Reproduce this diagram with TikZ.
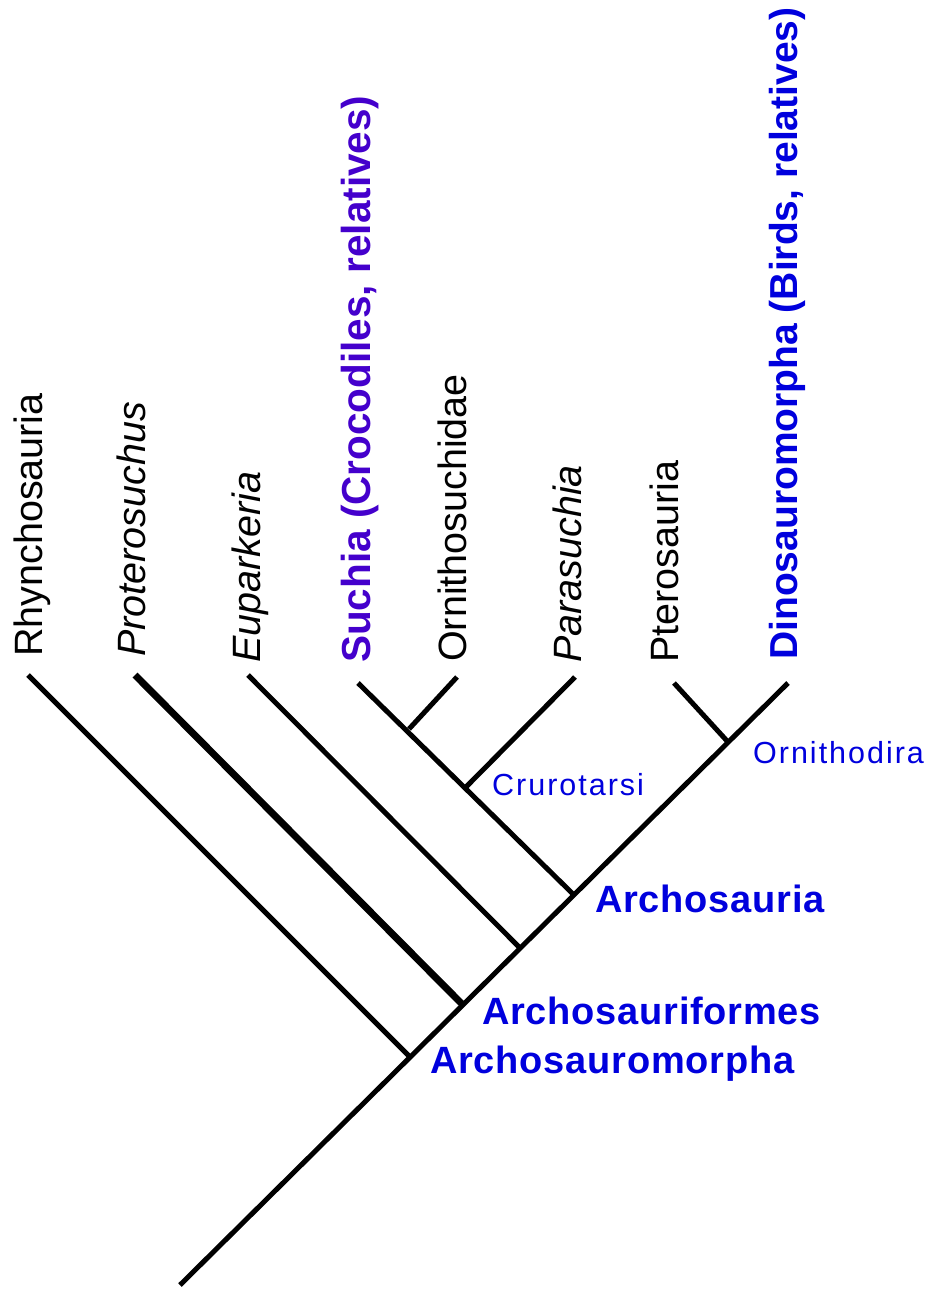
\documentclass[tikz,border=0pt]{standalone}
\usepackage{fontspec}
\setmainfont{Liberation Sans}
\newfontfamily\cladesans[LetterSpace=2]{Liberation Sans}
\newfontfamily\widesans[LetterSpace=6.5]{Liberation Sans}
\usepackage{xcolor}
\definecolor{cladeblue}{RGB}{0,0,221}
\definecolor{suchiablue}{RGB}{68,0,204}

\tikzset{
	branch/.style={line width=5pt},
	taxon/.style={rotate=90,anchor=base west,inner sep=0pt,font=\fontsize{39.5}{46}\selectfont},
	bigtaxon/.style={taxon,font=\bfseries\fontsize{39}{46}\selectfont},
	clade/.style={anchor=base west,inner sep=0pt,text=cladeblue,font=\cladesans\bfseries\fontsize{38}{46}\selectfont},
	subclade/.style={anchor=base west,inner sep=0pt,text=cladeblue,font=\widesans\fontsize{30.5}{36}\selectfont},
}

\begin{document}
\begin{tikzpicture}[x=1pt,y=-1pt]
			\path[use as bounding box] (0,0) rectangle (931,1291);
			\coordinate (root) at (180,1285);
			\coordinate (amorpha) at (410,1057);
			\coordinate (aformes) at (463,1005);
			\coordinate (eupnode) at (520,948);
			\coordinate (asauria) at (574,895);
			\coordinate (crurot) at (466,787);
			\coordinate (ornsnode) at (409,729);
			\coordinate (ornithod) at (728,742);
			\coordinate (rhyn) at (28,675);
			\coordinate (prot) at (135,675);
			\coordinate (eup) at (248,675);
			\coordinate (such) at (358,683);
			\coordinate (orns) at (457,677);
			\coordinate (para) at (575,677);
			\coordinate (ptero) at (674,683);
			\coordinate (dino) at (788,683);
			\draw[branch] (root)--(dino);
			\draw[branch] (rhyn)--(amorpha);
			\draw[branch,line width=7pt] (prot)--(aformes);
			\draw[branch] (eup)--(eupnode);
			\draw[branch] (such)--(asauria);
			\draw[branch] (orns)--(ornsnode);
			\draw[branch] (para)--(crurot);
			\draw[branch] (ptero)--(ornithod);
			\node[taxon] (lrhyn) at (42,657) {Rhynchosauria};
			\node[taxon] (lprot) at (145,657) {\itshape Proterosuchus};
			\node[taxon] (leup) at (260,663) {\itshape Euparkeria};
			\node[bigtaxon,text=suchiablue,font=\bfseries\fontsize{40.5}{46}\selectfont] (lsuch) at (370,663) {Suchia (Crocodiles, relatives)};
			\node[taxon] (lorns) at (466,662) {Ornithosuchidae};
			\node[taxon] (lpara) at (581,663) {\itshape Parasuchia};
			\node[taxon] (lptero) at (678,663) {Pterosauria};
			\node[bigtaxon,text=cladeblue] (ldino) at (797,660) {Dinosauromorpha (Birds, relatives)};
			\node[subclade] (lornithod) at (753,763) {Ornithodira};
			\node[subclade] (lcrurot) at (492,795) {Crurotarsi};
			\node[clade] (lasauria) at (595,912) {Archosauria};
			\node[clade] (laformes) at (482,1024) {Archosauriformes};
			\node[clade] (lamorpha) at (430,1073) {Archosauromorpha};
		\end{tikzpicture}
\end{document}
